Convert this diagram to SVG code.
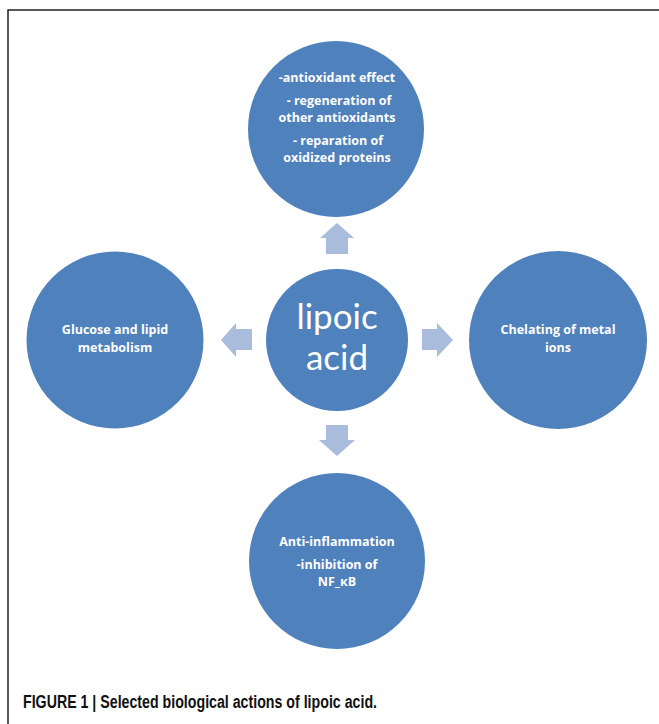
<svg xmlns="http://www.w3.org/2000/svg" width="659" height="724" viewBox="0 0 659 724">
<style>
.c{fill:#4f81bd}
.a{fill:#a9bcdb}
.t{font-family:"Open Sans","Liberation Sans",sans-serif;font-weight:bold;font-size:12.5px;fill:#ffffff;text-anchor:middle}
.big{font-family:Lato,"Open Sans",sans-serif;font-weight:normal;font-size:35px;fill:#ffffff;text-anchor:middle}
.cap{font-family:"Liberation Sans",sans-serif;font-weight:bold;font-size:18px;fill:#111111}
</style>
<rect width="659" height="724" fill="#ffffff"/>
<path d="M8 724 V10 H659" fill="none" stroke="#222222" stroke-width="1.5"/>
<g id="connectors">
<polygon class="a" points="326,254 326,238 320,238 337,223 354,238 348,238 348,254"/>
<polygon class="a" points="326,425 326,440 319,440 337,456 355,440 348,440 348,425"/>
<polygon class="a" points="252,329 236,329 236,323 221,340 236,357 236,350 252,350"/>
<polygon class="a" points="422,329 437,329 437,323 453,340 437,357 437,350 422,350"/>
</g>
<g id="center">
<circle class="c" cx="337" cy="340" r="71"/>
<text class="big" x="337" y="329">lipoic</text>
<text class="big" x="337" y="370">acid</text>
</g>
<g id="top">
<circle class="c" cx="336" cy="129" r="88"/>
<text class="t" x="337" y="82">-antioxidant effect</text>
<text class="t" x="339" y="105">- regeneration of</text>
<text class="t" x="337" y="122">other antioxidants</text>
<text class="t" x="338" y="145">- reparation of</text>
<text class="t" x="337" y="162">oxidized proteins</text>
</g>
<g id="left">
<circle class="c" cx="115" cy="340" r="88.5"/>
<text class="t" x="115" y="334">Glucose and lipid</text>
<text class="t" x="115" y="352">metabolism</text>
</g>
<g id="right">
<circle class="c" cx="558" cy="340" r="89"/>
<text class="t" x="558" y="334">Chelating of metal</text>
<text class="t" x="558" y="352">ions</text>
</g>
<g id="bottom">
<circle class="c" cx="337" cy="561" r="88"/>
<text class="t" x="337" y="546">Anti-inflammation</text>
<text class="t" x="337" y="569">-inhibition of</text>
<text class="t" x="337" y="586">NF_κB</text>
</g>
<text class="cap" x="23" y="708" textLength="354" lengthAdjust="spacingAndGlyphs">FIGURE 1 | Selected biological actions of lipoic acid.</text>
</svg>
